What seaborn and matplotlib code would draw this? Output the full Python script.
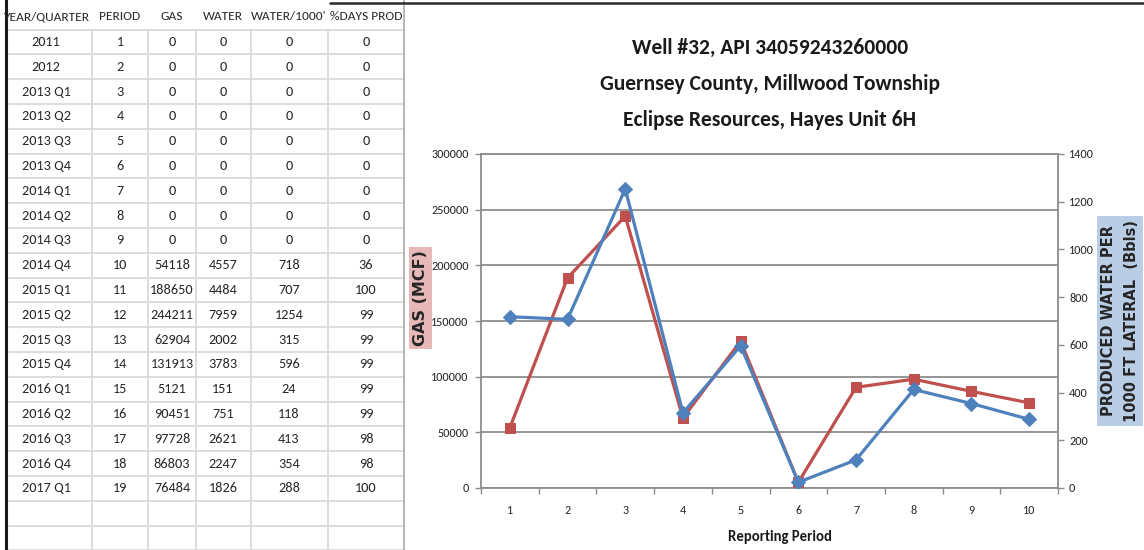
import numpy as np
import pandas as pd
import matplotlib
matplotlib.use("Agg")
import matplotlib.pyplot as plt
from matplotlib import font_manager
import seaborn as sns

# ---- production records -------------------------------------------------
year_quarter = ["2011", "2012", "2013 Q1", "2013 Q2", "2013 Q3", "2013 Q4",
                "2014 Q1", "2014 Q2", "2014 Q3", "2014 Q4", "2015 Q1",
                "2015 Q2", "2015 Q3", "2015 Q4", "2016 Q1", "2016 Q2",
                "2016 Q3", "2016 Q4", "2017 Q1"]
period = [1, 2, 3, 4, 5, 6, 7, 8, 9, 10, 11, 12, 13, 14, 15, 16, 17, 18, 19]
gas = [0, 0, 0, 0, 0, 0, 0, 0, 0, 54118, 188650, 244211, 62904, 131913,
       5121, 90451, 97728, 86803, 76484]
water = [0, 0, 0, 0, 0, 0, 0, 0, 0, 4557, 4484, 7959, 2002, 3783,
         151, 751, 2621, 2247, 1826]
water_per_1000 = [0, 0, 0, 0, 0, 0, 0, 0, 0, 718, 707, 1254, 315, 596,
                  24, 118, 413, 354, 288]
days_prod = [0, 0, 0, 0, 0, 0, 0, 0, 0, 36, 100, 99, 99, 99,
             99, 99, 98, 98, 100]

headers = ["YEAR/QUARTER", "PERIOD", "GAS", "WATER", "WATER/1000'", "%DAYS PROD"]
title_lines = ["Well #32, API 34059243260000",
               "Guernsey County, Millwood Township",
               "Eclipse Resources, Hayes Unit 6H"]
gas_label = "GAS (MCF)"
water_label = "PRODUCED WATER PER\n1000 FT LATERAL  (Bbls)"
x_label = "Reporting Period"

df = pd.DataFrame({"year_quarter": year_quarter, "period": period, "gas": gas,
                   "water": water, "water_per_1000": water_per_1000,
                   "days_prod": days_prod})
producing = df[df["gas"] > 0].copy()
producing["reporting_period"] = np.arange(1, len(producing) + 1)


def first_font(names, fallback="DejaVu Sans"):
    for n in names:
        try:
            font_manager.findfont(font_manager.FontProperties(family=n),
                                  fallback_to_default=False)
            return n
        except Exception:
            continue
    return fallback


NARROW = first_font(["Liberation Sans Narrow", "Carlito", "Roboto Condensed"],
                    fallback="Liberation Sans")
WIDE = "DejaVu Sans"

sns.set_style("white")
plt.rcParams["font.family"] = [NARROW, "DejaVu Sans"]

W, H = 1144, 550
fig = plt.figure(figsize=(W / 100, H / 100), dpi=100)
fig.patch.set_facecolor("white")


def fx(px):
    return px / W


def fy(py):
    return 1 - py / H


# ---- spreadsheet block ---------------------------------------------------
sheet = fig.add_axes([0, 0, 1, 1], zorder=0)
sheet.set_xlim(0, W)
sheet.set_ylim(H, 0)
sheet.axis("off")

grid_c = "#dadada"
col_edges = [6, 92, 148, 196, 251, 328, 404]
col_centers = [46, 120, 172, 223, 289, 366]
header_y = 17
row0_y = 42
row_h = 24.8
n_rows = len(year_quarter)

# horizontal rules (data rows plus two empty rows)
first_rule = row0_y - row_h / 2
for i in range(n_rows + 3):
    y = first_rule + i * row_h
    sheet.plot([6, 404], [y, y], color=grid_c, lw=1.3)
for x in col_edges[1:-1]:
    sheet.plot([x, x], [first_rule, H], color=grid_c, lw=1.3)
sheet.plot([404, 404], [0, H], color="#b0b0b0", lw=1.3)
sheet.plot([6, 6], [0, H], color="#1a1a1a", lw=2.2)
sheet.plot([330, W], [3, 3], color="#2a2a2a", lw=1.8)

txt_c = "#262626"
for c, h in zip(col_centers, headers):
    sheet.text(c, header_y, h, ha="center", va="center", fontsize=9.6,
               color=txt_c, clip_on=True)
for i in range(n_rows):
    y = row0_y + i * row_h
    vals = [df["year_quarter"][i], df["period"][i], df["gas"][i],
            df["water"][i], df["water_per_1000"][i], df["days_prod"][i]]
    for c, v in zip(col_centers, vals):
        sheet.text(c, y, str(v), ha="center", va="center", fontsize=10.3,
                   color=txt_c)

# ---- chart -------------------------------------------------------------------
red = "#c0504d"
blue = "#4f81bd"
axis_c = "#8c8c8c"
tick_fs = 8.7

ax = fig.add_axes([fx(481), fy(488), fx(1058) - fx(481), (488 - 154) / H],
                  zorder=2)
ax.patch.set_alpha(0)
sns.lineplot(data=producing, x="reporting_period", y="gas", ax=ax, color=red,
             marker="s", markersize=7.5, markeredgecolor=red, linewidth=2.3,
             zorder=3)
ax.set_ylim(0, 300000)
ax.set_yticks(np.arange(0, 300001, 50000))
ax.set_xlim(0.5, 10.5)
ax.set_xticks(np.arange(0.5, 11, 1))
ax.set_xticklabels([])
ax.set_xticks(producing["reporting_period"], minor=True)
ax.set_xticklabels([str(v) for v in producing["reporting_period"]], minor=True)
ax.tick_params(axis="x", which="major", length=4, width=1, color=axis_c,
               direction="out", bottom=True)
ax.tick_params(axis="x", which="minor", length=0, pad=12, labelsize=tick_fs,
               labelcolor=txt_c, bottom=True)
ax.tick_params(axis="y", length=4, width=1, color=axis_c, pad=5,
               labelsize=tick_fs, labelcolor=txt_c, left=True)
ax.yaxis.grid(True, color=axis_c, lw=1.3)
ax.xaxis.grid(False)
ax.set_axisbelow(True)
for s in ["left", "bottom", "top"]:
    ax.spines[s].set_visible(True)
    ax.spines[s].set_color(axis_c)
    ax.spines[s].set_linewidth(1.3)
ax.spines["right"].set_visible(False)
ax.set_xlabel("")
ax.set_ylabel("")

ax2 = ax.twinx()
sns.lineplot(data=producing, x="reporting_period", y="water_per_1000", ax=ax2,
             color=blue, marker="D", markersize=7, markeredgecolor=blue,
             linewidth=2.3, zorder=4)
ax2.set_ylim(0, 1400)
ax2.set_yticks(np.arange(0, 1401, 200))
ax2.tick_params(axis="y", length=4, width=1, color=axis_c, pad=4,
                labelsize=tick_fs, labelcolor=txt_c, right=True)
for s in ["left", "bottom", "top"]:
    ax2.spines[s].set_visible(False)
ax2.spines["right"].set_visible(True)
ax2.spines["right"].set_color(axis_c)
ax2.spines["right"].set_linewidth(1.3)
ax2.set_xlabel("")
ax2.set_ylabel("")
ax2.grid(False)

# titles and axis captions
for i, line in enumerate(title_lines):
    fig.text(fx(770), fy(48 + 36 * i), line, ha="center", va="center",
             fontsize=15.5, fontweight="bold", color="#1a1a1a")
fig.text(fx(780), fy(537), x_label, ha="center", va="center", fontsize=10.5,
         fontweight="bold", color="#1a1a1a")
fig.text(fx(420.5), fy(298), gas_label, ha="center", va="center", rotation=90,
         fontsize=11.5, fontweight="bold", family=WIDE, color="#262626",
         bbox=dict(boxstyle="square,pad=0.22", facecolor="#e6b9b8",
                   edgecolor="none"))
fig.text(fx(1120), fy(321), water_label, ha="center", va="center",
         rotation=90, fontsize=10.5, fontweight="bold", family=WIDE,
         color="#262626", linespacing=1.65,
         bbox=dict(boxstyle="square,pad=0.3", facecolor="#b9cde5",
                   edgecolor="none"))

fig.savefig("out.png", dpi=100)
